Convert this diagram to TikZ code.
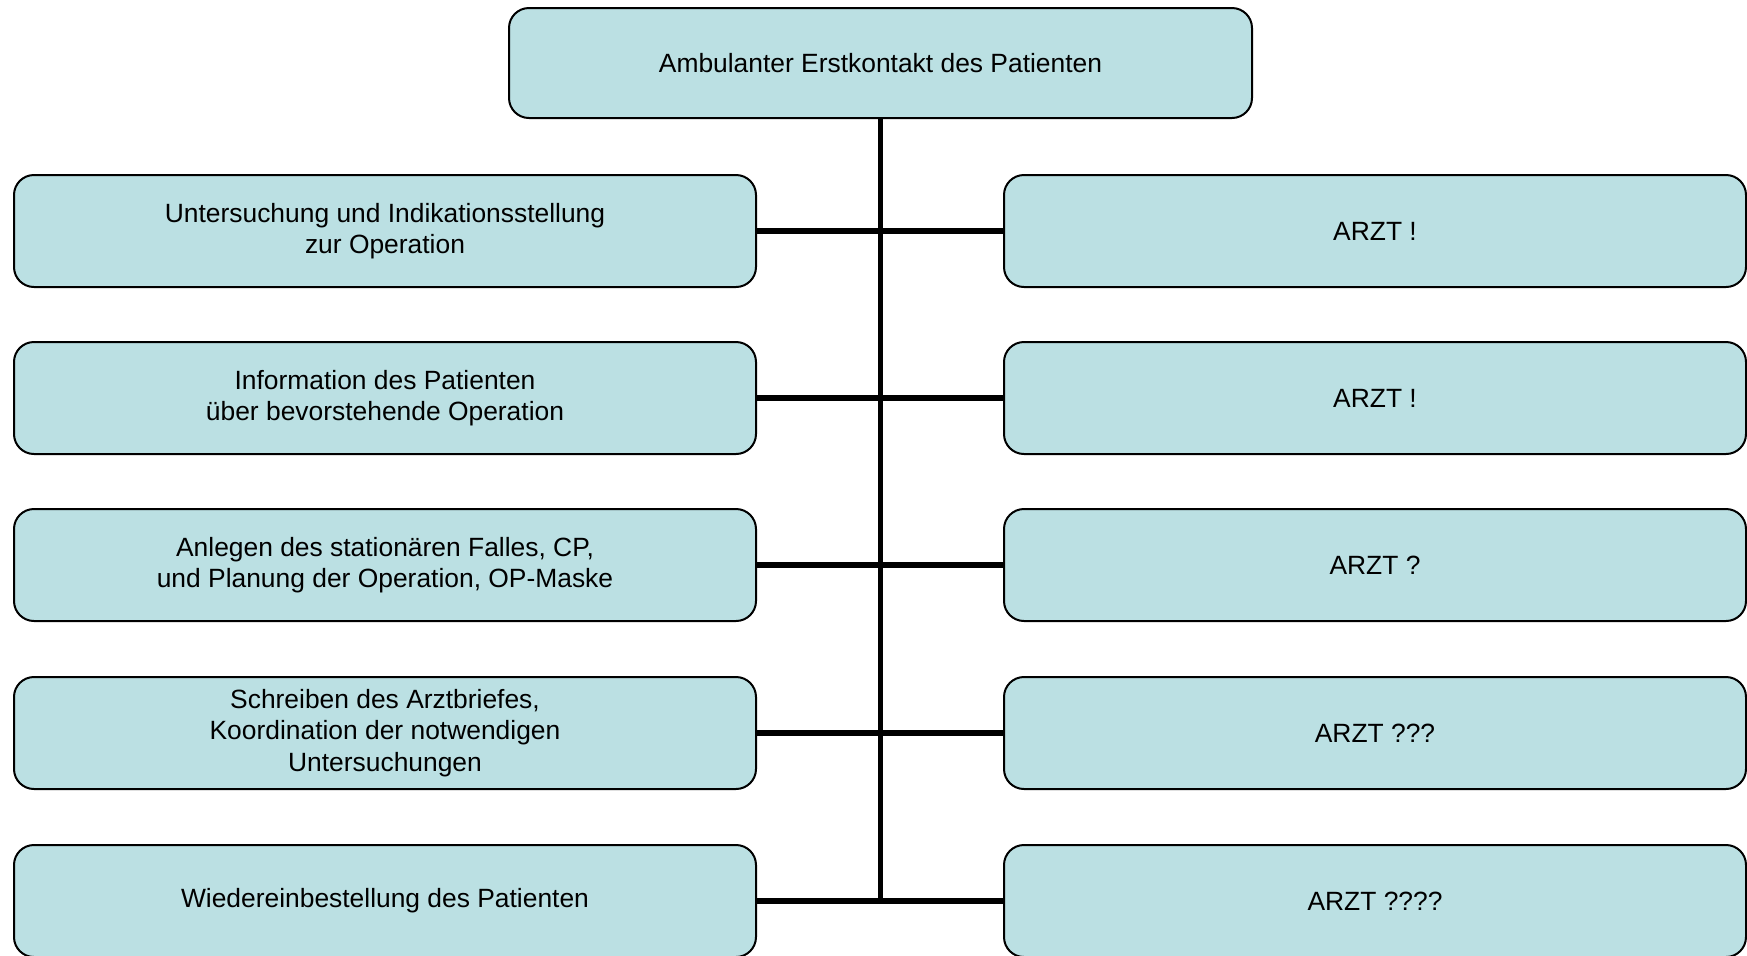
\documentclass[tikz,border=0pt]{standalone}
\usepackage{fontspec}
\setmainfont{Liberation Sans}
\usepackage{tikz}
\definecolor{cellblue}{RGB}{187,224,227}
\tikzset{
  box/.style={draw, line width=1pt, rounded corners=10pt, fill=cellblue,
    minimum width=371pt, minimum height=56pt, align=center,
    font=\fontsize{13.2}{15.6}\selectfont},
  link/.style={line width=2.6pt}
}

\begin{document}
\begin{tikzpicture}[x=0.5pt,y=-0.5pt]
    \useasboundingbox (0,0) rectangle (1747,955);
    % Kopf
    \node[box, minimum width=371.5pt, minimum height=55pt] (kontakt) at (880.5,63)
      {Ambulanter Erstkontakt des Patienten};
    % linke Spalte: Taetigkeit
    \node[box] (l1) at (385,231) {Untersuchung und Indikationsstellung\\ zur Operation};
    \node[box] (l2) at (385,398) {Information des Patienten\\ über bevorstehende Operation};
    \node[box] (l3) at (385,565) {Anlegen des stationären Falles, CP,\\ und Planung der Operation, OP-Maske};
    \node[box] (l4) at (385,733) {Schreiben des Arztbriefes,\\ Koordination der notwendigen\\ Untersuchungen};
    \node[box] (l5) at (385,901) {Wiedereinbestellung des Patienten};
    % rechte Spalte: wer
    \node[box] (r1) at (1375,231) {ARZT !};
    \node[box] (r2) at (1375,398) {ARZT !};
    \node[box] (r3) at (1375,565) {ARZT ?};
    \node[box] (r4) at (1375,733) {ARZT ???};
    \node[box] (r5) at (1375,901) {ARZT ????};
    % Verbindungen
    \coordinate (ende) at (kontakt.south |- l5.east);
    \draw[link] (kontakt.south) -- (ende);
    \foreach \i in {1,...,5}
      \draw[link] (l\i.east) -- (r\i.west);
\end{tikzpicture}
\end{document}
